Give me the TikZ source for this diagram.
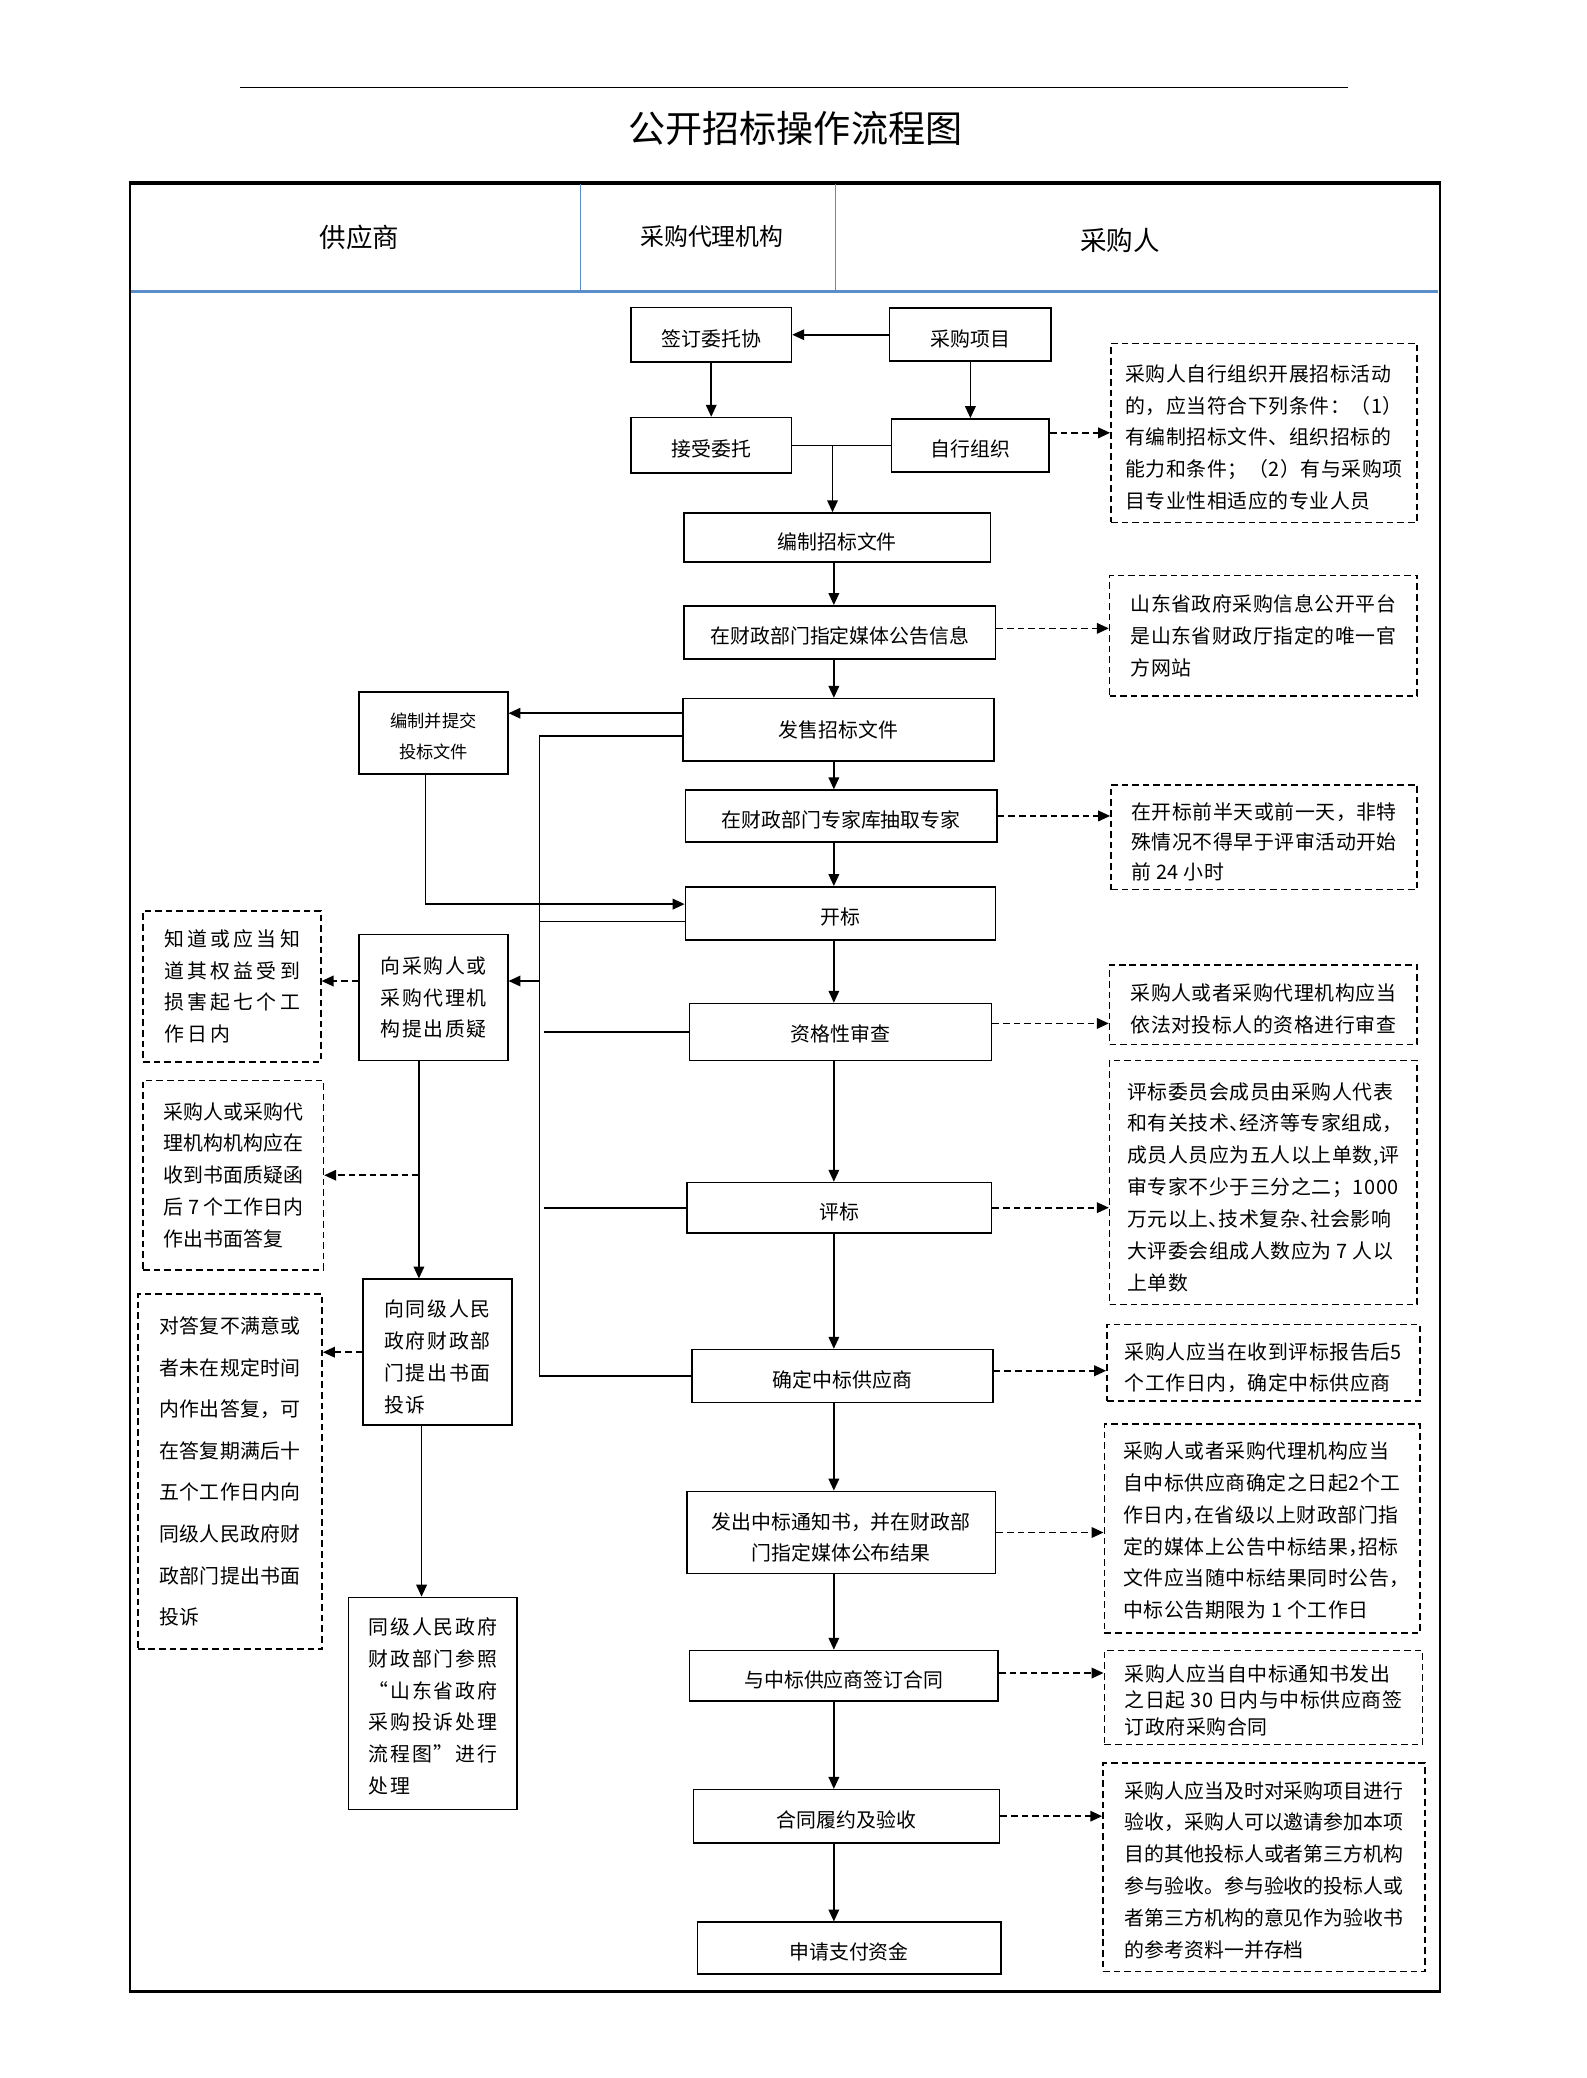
\documentclass[tikz,border=0pt]{standalone}
\usepackage{fontspec}
\setmainfont{Noto Sans CJK SC}
\usetikzlibrary{arrows.meta}
\definecolor{hdrblue}{RGB}{91,141,200}
\newcommand\bfnt{\fontsize{15}{24}\selectfont}
\newcommand\hw[1]{{\addfontfeatures{RawFeature=+halt}#1}}
\newcommand\st[1][18.5pt]{\rule{0pt}{#1}}
\tikzset{
  box/.style={draw, line width=1.2pt, inner sep=0pt, align=center, font=\bfnt},
  lbox/.style={box, align=left},
  note/.style={draw, line width=1.2pt, dash pattern=on 5pt off 3pt, inner sep=0pt, align=left, font={\bfnt\addfontfeatures{LetterSpace=3}}},
  low/.style={execute at begin node={\rule{0pt}{#1}}},
  low/.default=18.5pt,
  arr/.style={line width=1.2pt, -{Triangle[length=9pt,width=8pt]}},
  darr/.style={line width=1.2pt, dash pattern=on 5pt off 3pt, -{Triangle[length=9pt,width=8pt]}},
  ln/.style={line width=1.2pt}
}
\begin{document}
\begin{tikzpicture}[x=1pt,y=-1pt]
\useasboundingbox (0,0) rectangle (1197,1567.5);
% title
\draw[line width=1.3pt] (181,66) -- (1017,66);
\node[font=\fontsize{28}{30}\selectfont] (title) at (600,97) {公开招标操作流程图};
% frame
\draw[line width=1.5pt] (98,138) rectangle (1086,1502);
\draw[line width=2.5pt] (97,138) -- (1087,138);
\draw[line width=2.5pt] (97,1502) -- (1087,1502);
\draw[hdrblue, line width=2pt] (99,220) -- (1085,220);
\draw[hdrblue, line width=0.9pt] (438,139) -- (438,221);
\draw[hdrblue, line width=0.9pt] (630,139) -- (630,220);
\node[font=\fontsize{20}{22}\selectfont] (h1) at (271,179) {供应商};
\node[font=\fontsize{18}{20}\selectfont] (h2) at (537,178) {采购代理机构};
\node[font=\fontsize{20}{22}\selectfont] (h3) at (845,181) {采购人};

% centre column
\node[box, low, minimum width=121pt, minimum height=41pt] (qd) at (536.5,252.5) {签订委托协};
\node[box, low, minimum width=122pt, minimum height=40pt] (cg) at (732,252.5) {采购项目};
\node[box, low, minimum width=121pt, minimum height=42pt] (js) at (536.5,336) {接受委托};
\node[box, low, minimum width=119pt, minimum height=40pt] (zx) at (732,336) {自行组织};
\node[box, low, minimum width=231pt, minimum height=37pt] (bz) at (631.5,405.5) {编制招标文件};
\node[box, low, minimum width=235pt, minimum height=40pt] (gg) at (633.5,477) {在财政部门指定媒体公告信息};
\node[box, minimum width=235pt, minimum height=47pt] (fs) at (632.5,550.5) {发售招标文件};
\node[box, low, minimum width=235pt, minimum height=39pt] (cq) at (634.5,615.5) {在财政部门专家库抽取专家};
\node[box, low, minimum width=234pt, minimum height=40pt] (kb) at (634,689) {开标};
\node[box, low=16pt, minimum width=228pt, minimum height=43pt] (zg) at (634,778.5) {资格性审查};
\node[box, low, minimum width=230pt, minimum height=38pt] (pb) at (633,911) {评标};
\node[box, low, minimum width=227pt, minimum height=40pt] (qz) at (635.5,1038) {确定中标供应商};
\node[box, minimum width=233pt, minimum height=62pt] (fc) at (634.5,1156) {\st[20pt]发出中标通知书，并在财政部\\门指定媒体公布结果};
\node[box, low=19.5pt, minimum width=233pt, minimum height=38pt] (ht) at (636.5,1264) {与中标供应商签订合同};
\node[box, low, minimum width=231pt, minimum height=40pt] (ly) at (638.5,1370) {合同履约及验收};
\node[box, low, minimum width=229pt, minimum height=39pt] (sq) at (640.5,1469.5) {申请支付资金};

% left column boxes
\node[box, font=\fontsize{13}{23}\selectfont, minimum width=112pt, minimum height=62pt] (tj) at (327,553) {\st[16pt]编制并提交\\投标文件};
\node[lbox, font={\bfnt\addfontfeatures{LetterSpace=8}}, minimum width=112pt, minimum height=95pt] (zy) at (327,752.5) {向采购人或\\采购代理机\\构提出质疑};
\node[lbox, font={\bfnt\addfontfeatures{LetterSpace=9}}, minimum width=112pt, minimum height=110pt] (ts) at (330,1020) {\st[19.5pt]向同级人民\\政府财政部\\门提出书面\\投诉};
\node[lbox, font={\bfnt\addfontfeatures{LetterSpace=9}}, minimum width=127pt, minimum height=160pt] (cl) at (326.5,1285) {\st[17pt]同级人民政府\\财政部门参照\\“山东省政府\\采购投诉处理\\流程图”进行\\处理};

% right notes
\node[note, minimum width=231pt, minimum height=135pt] (n1) at (953.5,326.5) {\st[19.5pt]采购人自行组织开展招标活动\\的，应当符合下列条件：（1）\\有编制招标文件、组织招标的\\能力和条件；（2）有与采购项\\目专业性相适应的专业人员};
\node[note, minimum width=232pt, minimum height=91pt] (n2) at (953,479.5) {山东省政府采购信息公开平台\\是山东省财政厅指定的唯一官\\方网站};
\node[note, font={\fontsize{15}{22.5}\selectfont\addfontfeatures{LetterSpace=3}}, minimum width=231pt, minimum height=79pt] (n3) at (953.5,631.5) {\st[19.5pt]在开标前半天或前一天，非特\\殊情况不得早于评审活动开始\\前 24 小时};
\node[note, minimum width=232pt, minimum height=60pt] (n4) at (953,758) {\st[19pt]采购人或者采购代理机构应当\\依法对投标人的资格进行审查};
\node[note, minimum width=232pt, minimum height=184pt] (n5) at (953,892) {\st[19.5pt]评标委员会成员由采购人代表\\和有关技术\hw{、}经济等专家组成\hw{，}\\成员人员应为五人以上单数,评\\审专家不少于三分之二；1000\\万元以上\hw{、}技术复杂\hw{、}社会影响\\大评委会组成人数应为 7 人以\\上单数};
\node[note, minimum width=236pt, minimum height=58pt] (n6) at (953,1028) {\st[20pt]采购人应当在收到评标报告后5\\个工作日内，确定中标供应商};
\node[note, minimum width=238pt, minimum height=158pt] (n7) at (952,1153) {\st[16pt]采购人或者采购代理机构应当\\自中标供应商确定之日起2个工\\作日内\hw{，}在省级以上财政部门指\\定的媒体上公告中标结果\hw{，}招标\\文件应当随中标结果同时公告\hw{，}\\中标公告期限为 1 个工作日};
\node[note, font={\fontsize{15}{20}\selectfont\addfontfeatures{LetterSpace=3}}, minimum width=240pt, minimum height=71pt] (n8) at (953,1280.5) {\st[17pt]采购人应当自中标通知书发出\\之日起 30 日内与中标供应商签\\订政府采购合同};
\node[note, font={\bfnt}, minimum width=243pt, minimum height=157pt] (n9) at (953.5,1408.5) {\st[17pt]采购人应当及时对采购项目进行\\验收，采购人可以邀请参加本项\\目的其他投标人或者第三方机构\\参与验收。参与验收的投标人或\\者第三方机构的意见作为验收书\\的参考资料一并存档};

% left notes
\node[note, font={\bfnt\addfontfeatures{LetterSpace=16.7}}, minimum width=134pt, minimum height=114pt] (l1) at (175,744) {知道或应当知\\道其权益受到\\损害起七个工\\作日内};
\node[note, font={\bfnt}, minimum width=136pt, minimum height=143pt] (l2) at (176,886.5) {采购人或采购代\\理机构机构应在\\收到书面质疑函\\后 7 个工作日内\\作出书面答复};
\node[note, font={\fontsize{15}{31.4}\selectfont\addfontfeatures{LetterSpace=2}}, minimum width=139pt, minimum height=268pt] (l3) at (173.5,1110) {对答复不满意或\\者未在规定时间\\内作出答复，可\\在答复期满后十\\五个工作日内向\\同级人民政府财\\政部门提出书面\\投诉};

% connectors: top part
\draw[arr] (cg.west) -- (qd.east);
\draw[arr] (qd.south) -- (js.north);
\draw[arr] (cg.south) -- (zx.north);
\draw[ln] (js.east) -- (zx.west);
\coordinate (j1) at (628,336);
\draw[arr] (j1) -- (j1 |- bz.north);
\draw[darr] (n1.west -| zx.east) -- (n1.west);

% centre arrows
\coordinate (cx) at (629,0);
\draw[arr] (cx |- bz.south) -- (cx |- gg.north);
\draw[arr] (cx |- gg.south) -- (cx |- fs.north);
\draw[arr] (cx |- fs.south) -- (cx |- cq.north);
\draw[arr] (cx |- cq.south) -- (cx |- kb.north);
\draw[arr] (cx |- kb.south) -- (cx |- zg.north);
\draw[arr] (cx |- zg.south) -- (cx |- pb.north);
\draw[arr] (cx |- pb.south) -- (cx |- qz.north);
\draw[arr] (cx |- qz.south) -- (cx |- fc.north);
\draw[arr] (cx |- fc.south) -- (cx |- ht.north);
\draw[arr] (cx |- ht.south) -- (cx |- ly.north);
\draw[arr] (cx |- ly.south) -- (cx |- sq.north);

% dashed arrows to right notes
\draw[darr] ([yshift=3pt]gg.east) -- ([yshift=3pt]gg.east -| n2.west);
\draw[darr] (cq.east) -- (cq.east -| n3.west);
\draw[darr] ([yshift=6.5pt]zg.east) -- ([yshift=6.5pt]zg.east -| n4.west);
\draw[darr] (pb.east) -- (pb.east -| n5.west);
\draw[darr] ([yshift=4pt]qz.east) -- ([yshift=4pt]qz.east -| n6.west);
\draw[darr] (fc.east) -- (fc.east -| n7.west);
\draw[darr] ([yshift=2pt]ht.east) -- ([yshift=2pt]ht.east -| n8.west);
\draw[darr] (ly.east) -- (ly.east -| n9.west);

% supplier side
\draw[arr] ([yshift=12.5pt]fs.west) -- ([yshift=12.5pt]fs.west -| tj.east);
\draw[arr] ([xshift=-6pt]tj.south) |- ([yshift=7pt]kb.west);
\coordinate (vx) at (407,0);
\draw[ln] ([yshift=-4.5pt]fs.west) -| (vx |- qz.west) -- (qz.west);
\draw[ln] ([yshift=-6pt]kb.west -| vx) -- ([yshift=-6pt]kb.west);
\draw[ln] ([xshift=3pt]zg.west -| vx) -- (zg.west);
\draw[ln] ([xshift=3pt]pb.west -| vx) -- (pb.west);
\draw[arr] ([yshift=12.5pt]zy.east -| vx) -- ([yshift=12.5pt]zy.east);
\draw[darr] ([yshift=12.5pt]zy.west) -- ([yshift=12.5pt]zy.west -| l1.east);
\coordinate (vz) at (316,0);
\draw[arr] (vz |- zy.south) -- (vz |- ts.north);
\draw[darr] (vz |- l2.east) -- (l2.east);
\draw[darr] (ts.west) -- (ts.west -| l3.east);
\coordinate (vt) at (318,0);
\draw[arr] (vt |- ts.south) -- (vt |- cl.north);
\end{tikzpicture}
\end{document}
